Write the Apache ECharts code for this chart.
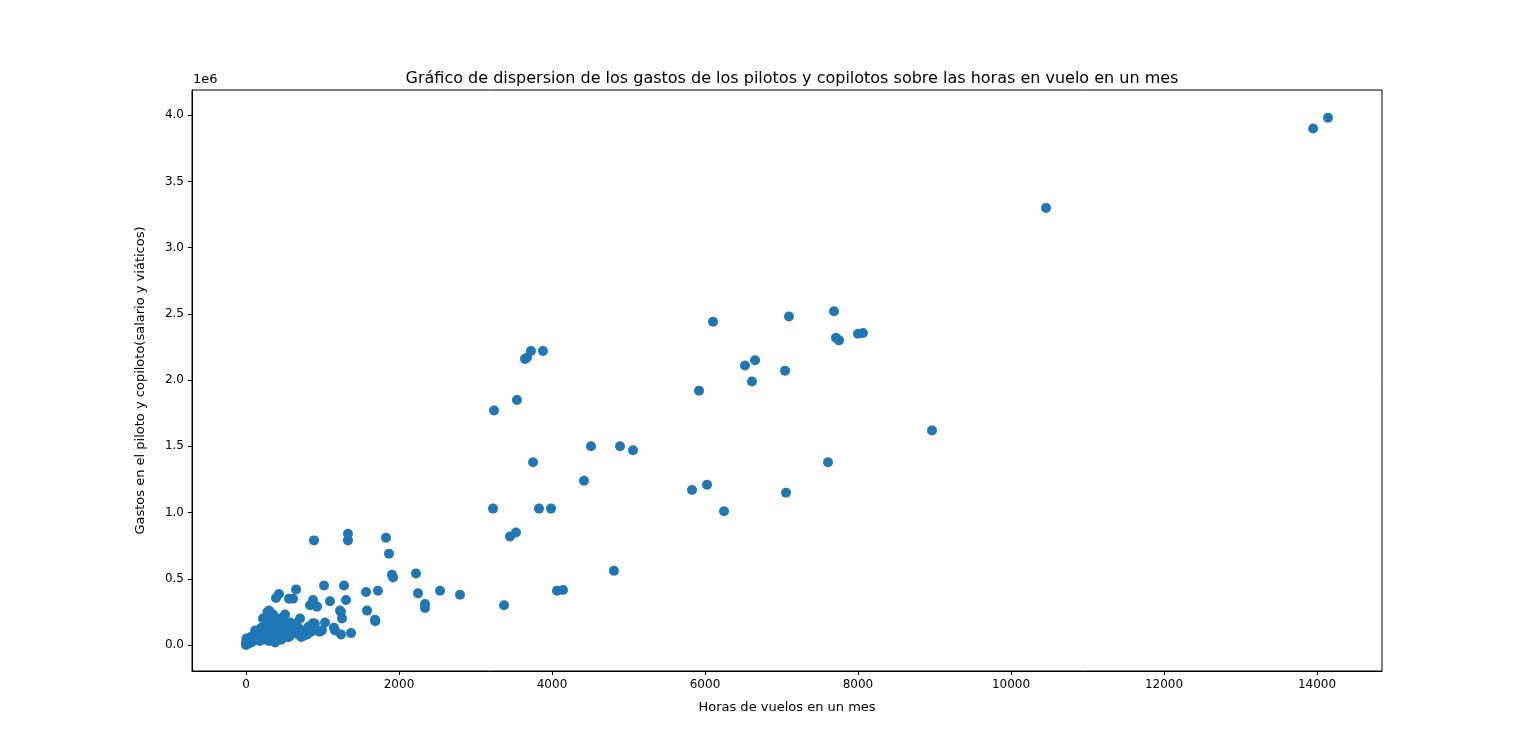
<!DOCTYPE html>
<html>
<head>
<meta charset="utf-8">
<script src="https://cdn.jsdelivr.net/npm/echarts@6/dist/echarts.min.js"></script>
<style>html,body{margin:0;padding:0;background:#fff}#chart{width:1536px;height:754px}</style>
</head>
<body>
<div id="chart"></div>
<script>
// horas de vuelo (x) y gastos (y)
var horas = [14144,13950,10458,8967,7686,7098,7712,7752,8000,8065,6105,6523,6654,6614,7046,5922,7608,7059,6026,5830,6248,4810,4418,4510,4889,5059,3987,3830,3752,3542,3242,3647,3673,3725,3882,3451,3529,3229,3373,4065,4144,2797,2536,2248,2340,2340,2222,1908,1922,1869,1830,1725,1686,1690,1569,1582,1373,1333,1333,889,1281,1307,1242,1255,1242,1020,1098,1033,993,1163,
  654,431,392,562,614,876,837,928,1229,301,353,222,510,706,876,1150,
  640,700,760,820,900,960,580,520,470,430,380,340,300,260,220,180,140,100,60,30,10,0,0,5,
  120,160,200,240,280,320,360,400,440,480,520,560,600,650,700,750,800,850,
  90,130,170,210,250,290,330,370,410,450,490,530,570,610,660,720,780,
  50,80,110,150,190,230,270,310,350,390,420,460,500,540,
  20,40,70,100,140,180,220,260,300,340,380,
  300,320,350,280,250,360,390,420,450,600,630,680];
var gastos = [3980000,3900000,3300000,1620000,2520000,2480000,2320000,2300000,2350000,2355000,2440000,2110000,2150000,1990000,2070000,1920000,1380000,1150000,1210000,1170000,1010000,560000,1240000,1500000,1500000,1470000,1030000,1030000,1380000,1850000,1770000,2160000,2170000,2220000,2220000,820000,850000,1030000,300000,410000,415000,380000,410000,390000,310000,280000,540000,530000,510000,690000,810000,410000,190000,180000,400000,260000,90000,840000,790000,790000,450000,340000,250000,200000,80000,450000,330000,170000,110000,110000,
  420000,385000,355000,350000,350000,340000,300000,290000,260000,260000,230000,200000,230000,200000,165000,130000,
  150000,120000,90000,140000,160000,100000,170000,130000,190000,110000,150000,170000,180000,130000,90000,110000,60000,40000,60000,30000,10000,0,20000,50000,
  110000,80000,130000,100000,150000,120000,90000,160000,70000,190000,110000,60000,140000,90000,120000,70000,80000,100000,
  30000,50000,90000,70000,120000,60000,130000,80000,110000,140000,90000,120000,70000,100000,160000,60000,80000,
  20000,40000,60000,50000,80000,100000,40000,60000,90000,50000,70000,40000,110000,60000,
  10000,30000,20000,40000,60000,30000,70000,50000,30000,40000,20000,
  210000,240000,180000,250000,190000,220000,170000,140000,200000,120000,100000,80000];

var yTicks = [0,500000,1000000,1500000,2000000,2500000,3000000,3500000,4000000];
var xTicks = [0,2000,4000,6000,8000,10000,12000,14000];

var puntos = [];
for (var i = 0; i < horas.length; i++) {
	puntos.push([horas[i], gastos[i]]);
}

var chart = echarts.init(document.getElementById('chart'));
var fuente = 'DejaVu Sans';
var ejeLinea = {show: true, onZero: false, lineStyle: {color: '#000', width: 1}};
chart.setOption({
	animation: false,
	textStyle: {fontFamily: fuente},
	title: {
		text: 'Gráfico de dispersion de los gastos de los pilotos y copilotos sobre las horas en vuelo en un mes',
		left: 787, top: 66, textAlign: 'center',
		textStyle: {fontSize: 16, fontWeight: 'normal', color: '#000', fontFamily: fuente}
	},
	graphic: [
		{type: 'text', left: 193, top: 73, style: {text: '1e6', font: '13px DejaVu Sans', fill: '#000'}},
		{type: 'rect', shape: {x: 192, y: 90, width: 1190, height: 581}, style: {fill: 'none', stroke: '#000', lineWidth: 1}, silent: true}
	],
	grid: {left: 192, right: 154, top: 90, bottom: 83},
	xAxis: {
		type: 'value', min: -706, max: 14850,
		name: 'Horas de vuelos en un mes', nameLocation: 'middle', nameGap: 30,
		nameTextStyle: {fontSize: 13, color: '#000'},
		axisLine: ejeLinea, splitLine: {show: false},
		axisTick: {show: true, customValues: xTicks, length: 4, lineStyle: {color: '#000'}},
		axisLabel: {customValues: xTicks, color: '#000', fontSize: 12, margin: 8,
			formatter: function (v) { return String(v); }}
	},
	yAxis: {
		type: 'value', min: -196000, max: 4190000,
		name: 'Gastos en el piloto y copiloto(salario y viáticos)', nameLocation: 'middle', nameGap: 45,
		nameTextStyle: {fontSize: 13, color: '#000'},
		axisLine: ejeLinea, splitLine: {show: false},
		axisTick: {show: true, customValues: yTicks, length: 4, lineStyle: {color: '#000'}},
		axisLabel: {customValues: yTicks, color: '#000', fontSize: 12, margin: 8,
			formatter: function (v) { return (v / 1e6).toFixed(1); }}
	},
	series: [{
		type: 'scatter', data: puntos, symbolSize: 10,
		itemStyle: {color: '#1f77b4', opacity: 1}
	}]
});
</script>
</body>
</html>
